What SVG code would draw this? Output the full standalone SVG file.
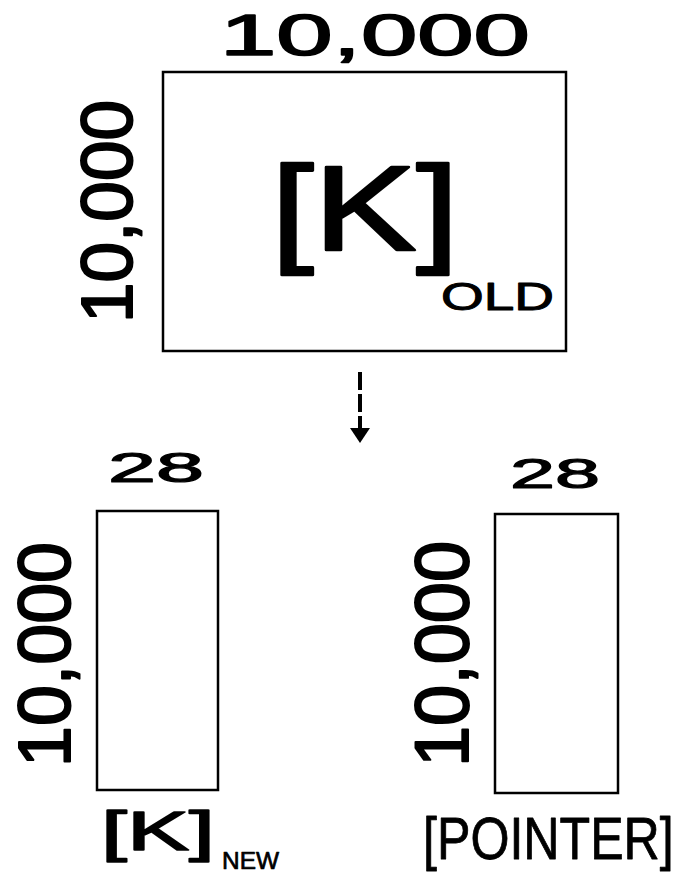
<svg xmlns="http://www.w3.org/2000/svg" width="687" height="875" viewBox="0 0 687 875">
<style>
.t{font-family:"Liberation Sans",Arial,sans-serif;fill:#000}
.h{stroke:#000;stroke-width:1.6;stroke-linejoin:round}
.box{fill:#fff;stroke:#000;stroke-width:2.5}
</style>
<rect width="687" height="875" fill="#fff"/>
<g id="k-old">
<rect class="box" x="163" y="72" width="403" height="279"/>
<text class="t h" x="220" y="55" font-size="58" textLength="310" lengthAdjust="spacingAndGlyphs">10,000</text>
<text class="t h" transform="translate(132,323) rotate(-90)" font-size="72" textLength="223" lengthAdjust="spacingAndGlyphs" style="stroke-width:2">10,000</text>
<text class="t h" x="271" y="250" font-size="121" textLength="188" lengthAdjust="spacingAndGlyphs" style="stroke-width:2.6">[K]</text>
<text class="t h" x="441" y="310" font-size="39" textLength="113" lengthAdjust="spacingAndGlyphs" style="stroke-width:1">OLD</text>
</g>
<g id="connectors">
<line x1="360" y1="372" x2="360" y2="430" stroke="#000" stroke-width="4" stroke-dasharray="18,4"/>
<polygon points="350,428 370,428 360,443" fill="#000"/>
</g>
<g id="k-new">
<rect class="box" x="97" y="511" width="121" height="279"/>
<text class="t h" x="108" y="482" font-size="42" textLength="96" lengthAdjust="spacingAndGlyphs" style="stroke-width:1.2">28</text>
<text class="t h" transform="translate(70,767) rotate(-90)" font-size="74" textLength="225" lengthAdjust="spacingAndGlyphs" style="stroke-width:2">10,000</text>
<text class="t h" x="101" y="850" font-size="56" textLength="114" lengthAdjust="spacingAndGlyphs" style="stroke-width:1.6">[K]</text>
<text class="t h" x="222" y="869" font-size="24" textLength="57" lengthAdjust="spacingAndGlyphs" style="stroke-width:0.7">NEW</text>
</g>
<g id="pointer">
<rect class="box" x="495" y="514" width="123" height="279"/>
<text class="t h" x="510" y="488" font-size="42" textLength="90" lengthAdjust="spacingAndGlyphs" style="stroke-width:1.2">28</text>
<text class="t h" transform="translate(468,767) rotate(-90)" font-size="76" textLength="226" lengthAdjust="spacingAndGlyphs" style="stroke-width:2">10,000</text>
<text class="t h" transform="translate(423,859) scale(0.85,1)" font-size="59" style="stroke-width:0.8">[POINTER]</text>
</g>
</svg>
